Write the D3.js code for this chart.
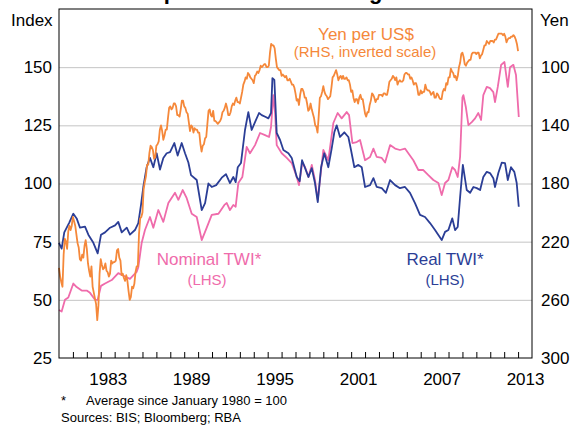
<!DOCTYPE html>
<html>
<head>
<meta charset="utf-8">
<script src="https://cdn.jsdelivr.net/npm/d3@7"></script>
<style>
  body { margin: 0; background: #fff; }
  svg { display: block; font-family: Arial, "Liberation Sans", sans-serif; }
</style>
</head>
<body>
<div class="chart"></div>
<script>
// Yen per US$, monthly averages from Jan 1980 to Jan 2013
const yenPerUsd = [
  238, 244, 248, 251, 229, 218, 220, 225, 213, 209, 212, 209,
  203, 206, 209, 215, 221, 224, 232, 233, 229, 231, 223, 219,
  225, 235, 240, 244, 237, 251, 255, 259, 263, 274, 264, 242,
  232, 236, 239, 238, 235, 240, 241, 244, 242, 233, 235, 234,
  234, 233, 226, 225, 231, 233, 243, 242, 245, 247, 243, 247,
  254, 260, 258, 251, 252, 249, 241, 237, 237, 215, 204, 203,
  200, 184, 179, 175, 167, 167, 159, 154, 155, 157, 163, 162,
  154, 153, 151, 143, 140, 144, 150, 147, 143, 143, 135, 128,
  127, 129, 128, 125, 125, 127, 133, 133, 134, 129, 123, 123,
  127, 128, 131, 132, 138, 144, 140, 141, 145, 142, 143, 143,
  145, 145, 153, 158, 154, 153, 149, 148, 139, 130, 129, 133,
  134, 130, 137, 137, 138, 139, 138, 137, 135, 131, 130, 128,
  125, 128, 133, 133, 131, 127, 125, 126, 123, 121, 124, 124,
  125, 121, 117, 112, 110, 107, 108, 104, 105, 107, 108, 109,
  111, 106, 105, 103, 104, 102, 99, 100, 99, 98, 98, 100,
  100, 99, 90, 84, 85, 85, 87, 94, 100, 101, 102, 102,
  106, 105, 106, 107, 106, 109, 109, 108, 110, 112, 112, 114,
  118, 123, 122, 126, 119, 115, 115, 117, 121, 121, 125, 130,
  129, 125, 129, 132, 135, 140, 141, 145, 134, 121, 120, 117,
  113, 117, 119, 120, 122, 121, 120, 114, 107, 106, 104, 102,
  105, 109, 107, 106, 108, 106, 108, 108, 107, 109, 109, 112,
  117, 116, 121, 124, 122, 122, 125, 121, 119, 122, 122, 127,
  132, 134, 131, 131, 126, 123, 118, 119, 121, 124, 122, 122,
  119, 119, 119, 120, 118, 118, 119, 119, 115, 110, 109, 108,
  106, 107, 109, 107, 112, 110, 109, 110, 110, 109, 105, 104,
  104, 105, 105, 108, 107, 109, 112, 111, 111, 114, 119, 119,
  116, 118, 117, 117, 112, 115, 116, 116, 117, 119, 118, 117,
  121, 121, 118, 119, 121, 122, 122, 117, 115, 116, 111, 112,
  107, 107, 101, 103, 104, 107, 106, 109, 106, 100, 97, 91,
  90, 93, 98, 99, 97, 96, 95, 95, 91, 90, 90, 90,
  91, 90, 90, 94, 92, 91, 88, 85, 85, 82, 83, 84,
  82, 82, 82, 83, 81, 81, 79, 77, 77, 77, 77, 78,
  77, 79, 83, 81, 80, 80, 79, 79, 78, 79, 81, 84,
  89
];
const yenStart = 1980;

// Real TWI (index), [decimal year, value]
const realTwi = [
  [1980.00, 74.5], [1980.19, 72], [1980.38, 79], [1980.72, 83], [1981.03, 87],
  [1981.27, 85], [1981.51, 81], [1981.87, 81.5], [1982.11, 78], [1982.47, 74.5],
  [1982.78, 70], [1983.02, 78], [1983.31, 79], [1983.67, 81], [1984.03, 82],
  [1984.26, 83.5], [1984.51, 79], [1984.87, 81], [1985.10, 78], [1985.46, 80],
  [1985.70, 83], [1985.90, 91], [1986.06, 98.5], [1986.30, 107], [1986.54, 111],
  [1986.78, 107], [1987.02, 113], [1987.26, 106], [1987.50, 111], [1987.74, 113],
  [1987.98, 113.5], [1988.29, 117.4], [1988.53, 112], [1988.82, 117.4], [1989.06, 113],
  [1989.30, 109], [1989.49, 103.6], [1989.90, 101.5], [1990.26, 88.6], [1990.50, 91.6],
  [1990.74, 100], [1990.98, 98.5], [1991.30, 99.3], [1991.70, 102.5], [1992.00, 104],
  [1992.29, 100.2], [1992.53, 102.8], [1992.70, 100.6], [1992.85, 107], [1993.08, 108.8],
  [1993.37, 123], [1993.61, 130.7], [1993.85, 123], [1994.09, 126.4], [1994.38, 130.3],
  [1994.57, 129.4], [1994.86, 128.6], [1995.05, 128], [1995.24, 130.3], [1995.34, 145.3],
  [1995.48, 144.5], [1995.65, 121.7], [1995.89, 118.7], [1996.13, 114.4], [1996.49, 113],
  [1996.73, 111], [1997.09, 102.8], [1997.30, 101], [1997.47, 110], [1997.69, 106.6],
  [1997.93, 102.8], [1998.17, 106.6], [1998.40, 100.2], [1998.60, 92], [1998.84, 107],
  [1999.07, 113], [1999.36, 107], [1999.60, 115], [1999.79, 122], [1999.96, 125],
  [2000.20, 120], [2000.51, 122], [2000.80, 120], [2000.99, 114.4], [2001.23, 107],
  [2001.52, 108], [2001.76, 107], [2002.00, 98.5], [2002.36, 99.3], [2002.60, 102.3],
  [2002.84, 98.5], [2003.20, 98], [2003.50, 96], [2003.80, 101.5], [2004.16, 99.3],
  [2004.51, 98], [2004.87, 98.5], [2005.23, 96], [2005.59, 91.6], [2005.95, 86.5],
  [2006.31, 85.6], [2006.67, 83], [2007.03, 80], [2007.27, 77.9], [2007.51, 75.7],
  [2007.75, 79.2], [2007.99, 80], [2008.27, 85], [2008.47, 80], [2008.66, 81.3],
  [2008.83, 94], [2009.03, 108], [2009.31, 97.2], [2009.55, 96], [2009.79, 98.5],
  [2010.03, 98], [2010.27, 97.2], [2010.50, 102.8], [2010.75, 105], [2010.98, 104.5],
  [2011.22, 102.3], [2011.34, 98.5], [2011.58, 104.5], [2011.83, 109], [2012.06, 108.8],
  [2012.26, 101.5], [2012.49, 107], [2012.73, 105], [2012.90, 100.2], [2013.05, 90]
];

// Nominal TWI (index), [decimal year, value]
const nominalTwi = [
  [1980.00, 45.6], [1980.19, 45], [1980.43, 50], [1980.67, 51], [1981.03, 57],
  [1981.27, 55.5], [1981.63, 54], [1981.99, 54], [1982.23, 53], [1982.59, 50],
  [1982.78, 50], [1983.02, 56], [1983.31, 57], [1983.79, 58.5], [1984.26, 61.5],
  [1984.75, 60], [1985.10, 59], [1985.58, 62], [1985.70, 64], [1985.94, 74.4],
  [1986.18, 80], [1986.54, 85.6], [1986.78, 81], [1987.14, 88.6], [1987.50, 83.5],
  [1987.86, 91.6], [1988.34, 96], [1988.58, 93], [1988.89, 97.2], [1989.18, 93.7],
  [1989.54, 87], [1989.90, 85.6], [1990.26, 75.7], [1990.62, 81], [1990.98, 86.5],
  [1991.46, 87], [1991.89, 90.8], [1992.06, 91.6], [1992.29, 88.6], [1992.53, 90.8],
  [1992.70, 90], [1992.89, 100.2], [1993.18, 102.8], [1993.49, 115.7], [1993.73, 113],
  [1994.09, 116.5], [1994.45, 121.7], [1994.81, 120.8], [1995.10, 120], [1995.24, 124.3],
  [1995.41, 138], [1995.53, 130.3], [1995.65, 116.5], [1996.01, 113], [1996.37, 111],
  [1996.73, 108.8], [1997.09, 102.8], [1997.25, 99.3], [1997.49, 109], [1997.69, 107],
  [1997.93, 102.8], [1998.17, 108], [1998.40, 101.5], [1998.60, 93], [1999.00, 114.4],
  [1999.36, 110], [1999.72, 126], [2000.03, 130.3], [2000.32, 128], [2000.68, 130.7],
  [2000.85, 129.4], [2001.09, 117.4], [2001.40, 117.8], [2001.64, 118.7], [2002.00, 110],
  [2002.36, 111.4], [2002.60, 115], [2002.84, 111.4], [2003.20, 111], [2003.44, 109],
  [2003.80, 116.5], [2004.16, 115], [2004.51, 114.4], [2004.87, 115], [2005.11, 113],
  [2005.47, 110], [2005.83, 105.8], [2006.19, 105.8], [2006.55, 103.6], [2006.91, 101.5],
  [2007.27, 100.2], [2007.51, 95], [2007.75, 100.2], [2007.99, 101.5], [2008.27, 107],
  [2008.47, 105.8], [2008.66, 102.8], [2008.83, 111.4], [2009.00, 137], [2009.07, 138],
  [2009.24, 133], [2009.43, 125.1], [2009.67, 126.4], [2009.91, 128], [2010.14, 130.3],
  [2010.34, 127.3], [2010.50, 138], [2010.75, 141.5], [2010.98, 141], [2011.22, 139.3],
  [2011.34, 135], [2011.54, 141.5], [2011.78, 151], [2012.02, 152.2], [2012.26, 141.5],
  [2012.42, 150], [2012.66, 151], [2012.85, 146.6], [2013.05, 128.6]
];

const indexTicks = [25, 50, 75, 100, 125, 150];
const yenTicks = [100, 140, 180, 220, 260, 300];
const yearLabels = [1983, 1989, 1995, 2001, 2007, 2013];

const W = 579, H = 426;
const margin = { top: 9, right: 47, bottom: 68, left: 59 };
const width = W - margin.left - margin.right;
const height = H - margin.top - margin.bottom;

const orange = "#f5883a", navy = "#2b3e96", pink = "#ef6bab";

const svg = d3.select(".chart").append("svg")
  .attr("width", W)
  .attr("height", H);

// title: the picture is cropped, only the descenders show above the frame
svg.append("text")
  .attr("x", 300).attr("y", -1)
  .attr("text-anchor", "middle")
  .style("font-size", "22px").style("font-weight", "bold")
  .text("Japanese Yen Exchange Rates");

const g = svg.append("g")
  .attr("transform", `translate(${margin.left}, ${margin.top})`);

const x = d3.scaleLinear().domain([1980, 2014]).range([0, width]);
const yIdx = d3.scaleLinear().domain([25, 175]).range([height, 0]);
const yYen = d3.scaleLinear().domain([60, 300]).range([0, height]);

// gridlines
g.append("g")
  .call(d3.axisLeft(yIdx).tickValues(indexTicks.slice(1)).tickSize(-width).tickFormat(""))
  .call(a => a.select(".domain").remove())
  .selectAll("line").attr("stroke", "#c4c4c4").attr("stroke-width", 1);

// left labels
g.append("g")
  .call(d3.axisLeft(yIdx).tickValues(indexTicks).tickSize(0).tickPadding(7))
  .call(a => a.select(".domain").remove())
  .selectAll("text").style("font-size", "17px").attr("fill", "#000")
  .attr("font-family", null);

// right labels
g.append("g")
  .attr("transform", `translate(${width}, 0)`)
  .call(d3.axisRight(yYen).tickValues(yenTicks).tickSize(0).tickPadding(9))
  .call(a => a.select(".domain").remove())
  .selectAll("text").style("font-size", "17px").attr("fill", "#000")
  .attr("font-family", null);

// year ticks inside bottom
g.append("g")
  .attr("transform", `translate(0, ${height})`)
  .call(d3.axisTop(x).tickValues(d3.range(1981, 2014)).tickSize(6).tickFormat(""))
  .call(a => a.select(".domain").remove())
  .selectAll("line").attr("stroke", "#000");

// year labels centred in the year
g.append("g")
  .attr("transform", `translate(0, ${height})`)
  .call(d3.axisBottom(x).tickValues(yearLabels.map(d => d + 0.5)).tickSize(0).tickPadding(15)
    .tickFormat(d => Math.floor(d)))
  .call(a => a.select(".domain").remove())
  .selectAll("text").style("font-size", "17px").attr("fill", "#000")
  .attr("font-family", null);

const lineIdx = d3.line().x(d => x(d[0])).y(d => yIdx(d[1]));
const lineYen = d3.line().x((d, i) => x(yenStart + i / 12)).y(d => yYen(d));

g.append("path").datum(nominalTwi)
  .attr("d", lineIdx).attr("fill", "none")
  .attr("stroke", pink).attr("stroke-width", 1.8).attr("stroke-linejoin", "round");
g.append("path").datum(realTwi)
  .attr("d", lineIdx).attr("fill", "none")
  .attr("stroke", navy).attr("stroke-width", 1.8).attr("stroke-linejoin", "round");
g.append("path").datum(yenPerUsd)
  .attr("d", lineYen).attr("fill", "none")
  .attr("stroke", orange).attr("stroke-width", 1.8).attr("stroke-linejoin", "round");

// frame
g.append("rect")
  .attr("width", width).attr("height", height)
  .attr("fill", "none").attr("stroke", "#000").attr("stroke-width", 1);

// series labels
const label = (txt, cx, cy, size, col) => g.append("text")
  .attr("x", cx).attr("y", cy).attr("text-anchor", "middle")
  .style("font-size", size + "px").attr("fill", col).text(txt);
label("Yen per US$", 366 - margin.left, 40 - margin.top, 17, orange);
label("(RHS, inverted scale)", 365 - margin.left, 57 - margin.top, 15, orange);
label("Nominal TWI*", 209 - margin.left, 265 - margin.top, 17, pink);
label("(LHS)", 207 - margin.left, 285 - margin.top, 15, pink);
label("Real TWI*", 445 - margin.left, 265 - margin.top, 17, navy);
label("(LHS)", 445 - margin.left, 285 - margin.top, 15, navy);

// axis titles
svg.append("text").attr("x", 11).attr("y", 26).style("font-size", "17px").text("Index");
svg.append("text").attr("x", 540).attr("y", 26).style("font-size", "17px").text("Yen");

// notes
svg.append("text").attr("x", 61).attr("y", 405).style("font-size", "13px").text("*");
svg.append("text").attr("x", 86).attr("y", 405).style("font-size", "13px").text("Average since January 1980 = 100");
svg.append("text").attr("x", 61).attr("y", 422).style("font-size", "13px").text("Sources: BIS; Bloomberg; RBA");
</script>
</body>
</html>
